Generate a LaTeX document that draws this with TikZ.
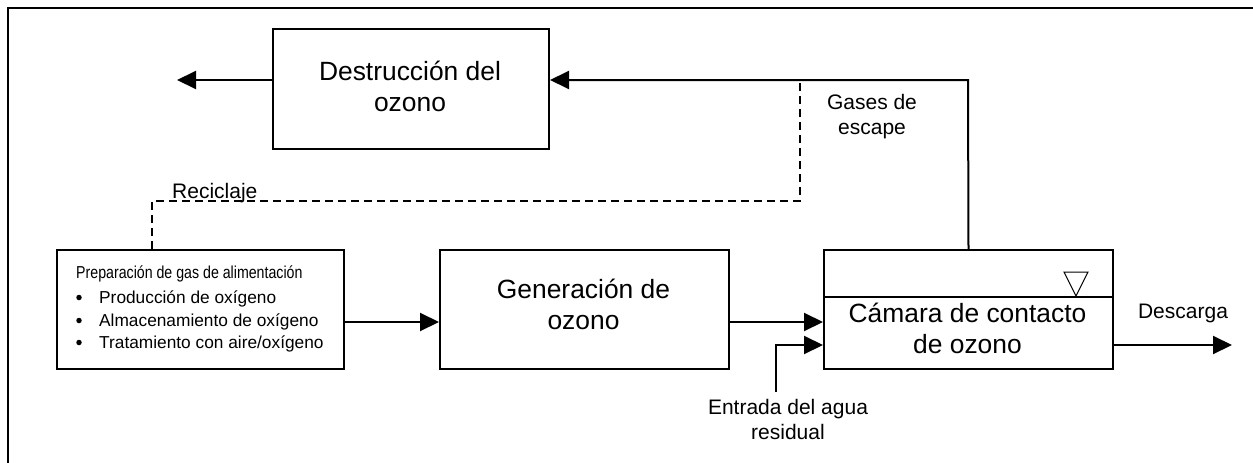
\documentclass[tikz,border=0pt]{standalone}
\usepackage{fontspec}
\setmainfont{Liberation Sans}
\newfontfamily\narrowfont[FakeStretch=0.82]{Liberation Sans}
\usetikzlibrary{arrows.meta}
\newcommand{\bigtxt}{\fontsize{26.4}{31.5}\selectfont}
\newcommand{\smalltxt}{\fontsize{21}{25}\selectfont}
\newcommand{\listtxt}{\fontsize{17.3}{22.5}\selectfont}
\newcommand{\twolines}[2]{\begin{tabular}[t]{@{}c@{}}#1\\#2\end{tabular}}
\begin{document}
\begin{tikzpicture}[x=1pt,y=-1pt,
  box/.style={draw,line width=2pt,minimum width=#1,inner sep=0pt,anchor=north west},
  txt/.style={inner sep=0pt,anchor=base},
  bul/.style={fill,circle,inner sep=0pt,minimum size=5.5pt},
  conn/.style={line width=2pt,-{Triangle[length=19pt,width=18pt]}},
  plain/.style={line width=2pt},
  recyc/.style={line width=2pt,dash pattern=on 8pt off 5pt}]
\useasboundingbox (0,0) rectangle (1253,463);
% outer frame (only left and top visible)
\draw[line width=2.5pt] (8,463) -- (8,8) -- (1253,8);
% boxes
\node[box=276pt,minimum height=120pt] (des) at (272,28) {};
\node[box=287pt,minimum height=119pt] (prep) at (56,249) {};
\node[box=289pt,minimum height=119pt] (gen) at (439,249) {};
\node[box=289pt,minimum height=119pt] (cam) at (823,249) {};
\draw[plain] (823,297) -- (1112,297);
% water level symbol
\draw[line width=1pt] (1064,272) -- (1088,272) -- (1076,296) -- cycle;
% texts in boxes
\node[txt] (tdes) at (410,80) {\bigtxt\twolines{Destrucción del}{ozono}};
\node[txt] (tgen) at (583.5,298) {\bigtxt\twolines{Generación de}{ozono}};
\node[txt] (tcam) at (967.5,322) {\bigtxt\twolines{Cámara de contacto}{de ozono}};
\node[txt,anchor=base west] (thead) at (76,278) {\listtxt\narrowfont Preparación de gas de alimentación};
\node[bul] (b1) at (79,297.5) {};
\node[bul] (b2) at (79,320.5) {};
\node[bul] (b3) at (79,342.5) {};
\node[txt,anchor=base west] (l1) at (99,303) {\listtxt Producción de oxígeno};
\node[txt,anchor=base west] (l2) at (99,326) {\listtxt Almacenamiento de oxígeno};
\node[txt,anchor=base west] (l3) at (99,348) {\listtxt Tratamiento con aire/oxígeno};
% labels
\node[txt] (lgas) at (872,109) {\smalltxt\twolines{Gases de}{escape}};
\node[txt,anchor=base west] (lrec) at (172,198) {\smalltxt Reciclaje};
\node[txt] (ldes) at (1183,318) {\smalltxt Descarga};
\node[txt] (lent) at (788,414) {\smalltxt\twolines{Entrada del agua}{residual}};
% coordinates
\coordinate (out) at (177,80);
\coordinate (disc) at (1232,345);
\coordinate (inw) at (776,392);
% connectors
\draw[conn] (des.west |- out) -- (out);
\draw[conn] (cam.north) -- (968,80) -- (des.east |- out);
\draw[recyc] (152,249) -- (152,201) -- (800,201) -- (800,80);
\draw[conn] (prep.east |- 0,322) -- (gen.west |- 0,322);
\draw[conn] (gen.east |- 0,322) -- (cam.west |- 0,322);
\draw[conn] (inw) -- (776,345) -- (cam.west |- 0,345);
\draw[conn] (cam.east |- disc) -- (disc);
\end{tikzpicture}
\end{document}
